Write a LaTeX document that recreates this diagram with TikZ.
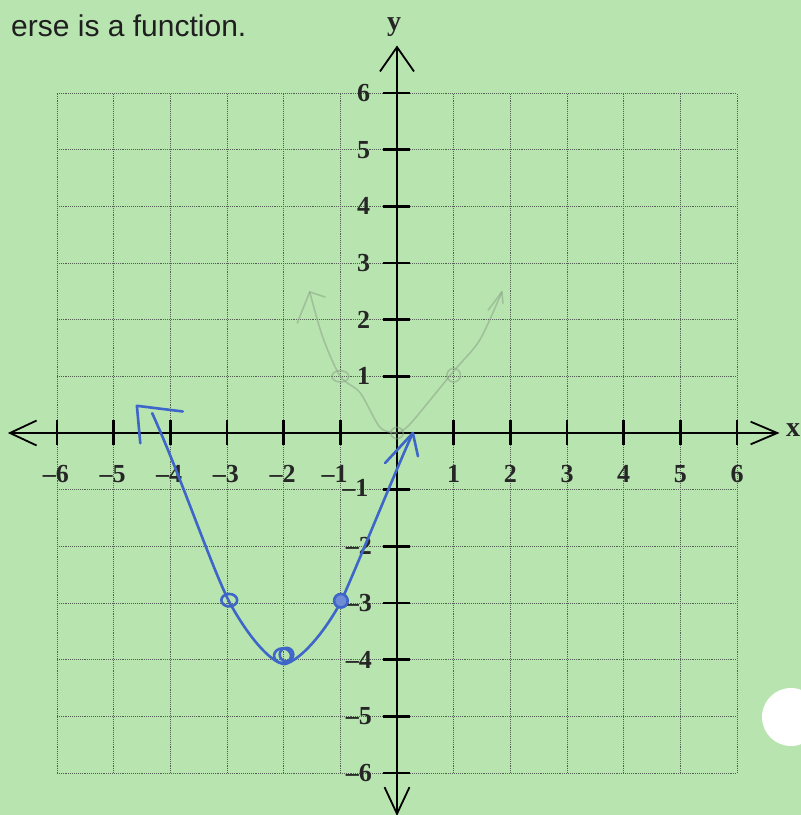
\documentclass[tikz,border=0pt]{standalone}
\usepackage{fontspec}
\setmainfont{Liberation Serif}
\newfontfamily\sansf{Liberation Sans}
\usetikzlibrary{arrows.meta}
\definecolor{bg}{RGB}{184,228,176}
\definecolor{pen}{RGB}{62,102,200}
\definecolor{faint}{RGB}{140,165,135}
\definecolor{gridc}{RGB}{85,95,85}
\tikzset{
  gridline/.style={gridc, line width=0.9pt, densely dotted},
  axisline/.style={black, line width=2.6pt},
  tickline/.style={black, line width=2.4pt},
  barb/.style={black, line width=1.8pt},
  numlab/.style={font=\bfseries\fontsize{26}{28}\selectfont, inner sep=0pt, text=black!85},
  axlab/.style={font=\bfseries\fontsize{28}{30}\selectfont, inner sep=0pt, text=black!85},
  bluepen/.style={pen, line width=2.6pt, line cap=round, line join=round},
  faintpen/.style={faint, line width=1.6pt, line cap=round, line join=round, opacity=0.55}
}
\begin{document}
\begin{tikzpicture}[x=1pt,y=-1pt]
\fill[bg] (0,0) rectangle (801,815);
\useasboundingbox (0,0) rectangle (801,815);
\node[anchor=base west, font=\sansf\fontsize{30}{36}\selectfont, inner sep=0pt, text=black!88] (title) at (11,36) {erse is a function.};
\fill[white] (791,717) circle[radius=29pt];
\begin{scope}[shift={(397pt,-433pt)}, x=56.67pt, y=56.67pt]
  % grid
  \foreach \i in {-6,-5,-4,-3,-2,-1,1,2,3,4,5,6} {
    \draw[gridline] (\i,-6) -- (\i,6);
    \draw[gridline] (-6,\i) -- (6,\i);
  }
  % axes
  \coordinate (xl) at (-6.83,0);
  \coordinate (xr) at (6.71,0);
  \coordinate (yt) at (0,6.81);
  \coordinate (yb) at (0,-6.72);
  \draw[axisline] (xl) -- (xr);
  \draw[axisline] (yb) -- (yt);
  \coordinate (xla) at (-6.36,0.22); \coordinate (xlb) at (-6.36,-0.22);
  \draw[barb] (xla) -- (xl) -- (xlb);
  \coordinate (xra) at (6.24,0.2); \coordinate (xrb) at (6.24,-0.2);
  \draw[barb] (xra) -- (xr) -- (xrb);
  \coordinate (yta) at (-0.3,6.38); \coordinate (ytb) at (0.3,6.38);
  \draw[barb] (yta) -- (yt) -- (ytb);
  \coordinate (yba) at (-0.22,-6.25); \coordinate (ybb) at (0.22,-6.25);
  \draw[barb] (yba) -- (yb) -- (ybb);
  % ticks
  \foreach \i in {-6,-5,-4,-3,-2,-1,1,2,3,4,5,6} {
    \draw[tickline] (\i,-0.21) -- (\i,0.23);
    \draw[tickline] (-0.25,\i) -- (0.23,\i);
  }
  % x labels
  \foreach \v/\t in {-6/–6,-5/–5,-4/–4,-3/–3,-2/–2} {
    \node[numlab] (xn\v) at (\v-0.02,-0.72) {\t};
  }
  \node[numlab] (xnm1) at (-1.1,-0.72) {–1};
  \foreach \v in {1,2,3,4,5,6} {
    \node[numlab] (xp\v) at (\v,-0.72) {\v};
  }
  % y labels
  \foreach \v in {1,2,3,4,5,6} {
    \node[numlab, anchor=east] (yp\v) at (-0.47,\v) {\v};
  }
  \node[numlab, anchor=east] (ynm1) at (-0.5,-0.97) {–1};
  \foreach \v/\t in {-2/–2,-3/–3,-4/–4,-5/–5,-6/–6} {
    \node[numlab, anchor=east] (yn\v) at (-0.44,\v) {\t};
  }
  \node[axlab] (ylab) at (-0.05,7.17) {y};
  \node[axlab] (xlab) at (6.99,0.06) {x};
  % faint (erased) graph
  \draw[faintpen] plot[smooth, tension=0.5] coordinates {(0,0) (-0.3,0.1) (-0.65,0.71) (-1,1) (-1.31,1.69) (-1.54,2.49)};
  \coordinate (fla) at (-1.76,1.94); \coordinate (flt) at (-1.54,2.49); \coordinate (flb) at (-1.27,2.4);
  \draw[faintpen] (fla) -- (flt) -- (flb);
  \draw[faintpen] plot[smooth, tension=0.5] coordinates {(0.05,0.02) (0.26,0.19) (0.99,1.08) (1.46,1.64) (1.85,2.49)};
  \coordinate (fra) at (1.61,2.17); \coordinate (frt) at (1.85,2.49); \coordinate (frb) at (1.87,2.29);
  \draw[faintpen] (fra) -- (frt) -- (frb);
  \draw[faintpen] (-1,1) ellipse[x radius=0.15, y radius=0.1];
  \draw[faintpen] (1,1.02) ellipse[x radius=0.12, y radius=0.12];
  \draw[faintpen] (0,0) ellipse[x radius=0.11, y radius=0.1];
  % blue parabola
  \coordinate (bs) at (-4.32,0.35);
  \coordinate (b3) at (-2.96,-2.98);
  \coordinate (bv) at (-1.98,-4.08);
  \coordinate (b1) at (-0.99,-2.98);
  \coordinate (be) at (0.28,0);
  \draw[bluepen] (bs) .. controls (-3.8,-0.8) and (-3.3,-2.3) .. (b3)
     .. controls (-2.65,-3.55) and (-2.25,-4.05) .. (bv)
     .. controls (-1.7,-4.0) and (-1.3,-3.55) .. (b1)
     .. controls (-0.6,-2.1) and (0.0,-0.6) .. (be);
  \coordinate (bla) at (-4.53,-0.18); \coordinate (blt) at (-4.59,0.48); \coordinate (blb) at (-3.78,0.38);
  \draw[bluepen] (bla) -- (blt) -- (blb);
  \coordinate (bra) at (-0.21,-0.53); \coordinate (brb) at (0.37,-0.41);
  \draw[bluepen] (bra) -- (be) -- (brb);
  \draw[bluepen] (-2.96,-2.95) ellipse[x radius=0.14, y radius=0.11];
  \draw[bluepen] (-2.02,-3.93) ellipse[x radius=0.15, y radius=0.13];
  \draw[bluepen] (-1.95,-3.91) ellipse[x radius=0.12, y radius=0.12];
  \filldraw[bluepen, fill=pen!75] (-0.99,-2.96) circle[radius=0.12];
\end{scope}
\end{tikzpicture}
\end{document}
